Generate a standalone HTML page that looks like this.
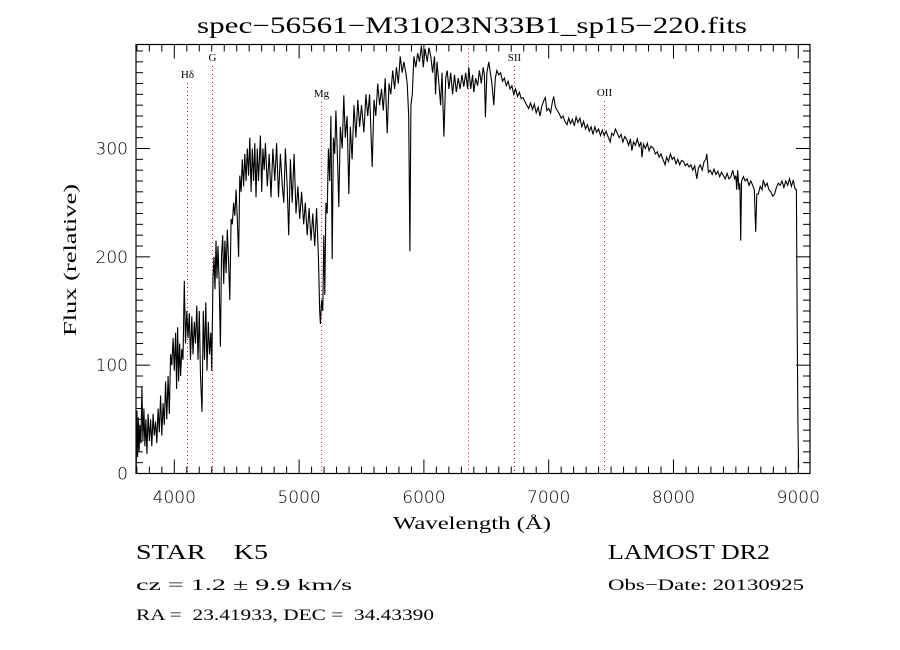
<!DOCTYPE html>
<html><head><meta charset="utf-8"><style>
html,body{margin:0;padding:0;background:#fff;}
svg{display:block;font-family:"Liberation Serif",serif;}
text{white-space:pre;}
</style></head><body>
<svg id="chart" width="900" height="650" viewBox="0 0 900 650">
<rect width="900" height="650" fill="#fff"/>
<text x="197" y="33" font-size="23" textLength="550" lengthAdjust="spacingAndGlyphs">spec−56561−M31023N33B1_sp15−220.fits</text>
<g id="lines"></g>
<g id="spec"></g>
<rect x="136" y="44.5" width="674" height="429" fill="none" stroke="#000" stroke-width="1.2"/>
<g id="ticks"></g>
<text x="393" y="529" font-size="18" textLength="158" lengthAdjust="spacingAndGlyphs">Wavelength (Å)</text>
<text transform="translate(76,336) rotate(-90)" font-size="18" textLength="152" lengthAdjust="spacingAndGlyphs">Flux (relative)</text>
<text x="136" y="559" font-size="21" textLength="132" lengthAdjust="spacingAndGlyphs">STAR    K5</text>
<text x="136" y="590" font-size="16" textLength="216" lengthAdjust="spacingAndGlyphs">cz = 1.2 ± 9.9 km/s</text>
<text x="136" y="620" font-size="16" textLength="298" lengthAdjust="spacingAndGlyphs">RA =  23.41933, DEC =  34.43390</text>
<text x="608" y="559" font-size="21" textLength="162" lengthAdjust="spacingAndGlyphs">LAMOST DR2</text>
<text x="608" y="590" font-size="16" textLength="196" lengthAdjust="spacingAndGlyphs">Obs−Date: 20130925</text>
</svg>
<script>
const lam=[3695,3700,3706,3712,3718,3725,3732,3740,3748,3756,3764,3772,3780,3790,3800,3810,3820,3830,3840,3850,3860,3870,3880,3890,3900,3910,3920,3930,3940,3950,3960,3970,3980,3990,4000,4010,4018,4026,4034,4042,4050,4060,4070,4080,4090,4100,4110,4120,4130,4140,4150,4160,4170,4180,4190,4200,4210,4222,4232,4242,4252,4262,4272,4282,4292,4300,4310,4318,4326,4334,4342,4350,4360,4369,4378,4388,4396,4405,4415,4425,4435,4445,4455,4465,4475,4485,4495,4505,4515,4525,4535,4545,4555,4565,4575,4585,4595,4605,4615,4625,4635,4645,4655,4665,4675,4690,4700,4710,4720,4730,4745,4760,4775,4790,4805,4820,4835,4850,4865,4877,4890,4905,4917,4930,4945,4960,4975,4990,5005,5020,5037,5050,5065,5080,5095,5110,5125,5140,5155,5165,5171,5180,5190,5198,5206,5215,5225,5235,5245,5255,5265,5275,5285,5295,5305,5318,5330,5345,5358,5370,5385,5398,5410,5425,5440,5455,5470,5485,5500,5519,5535,5550,5565,5586,5600,5615,5630,5645,5660,5675,5690,5706,5720,5735,5750,5765,5780,5795,5810,5826,5840,5855,5866,5878,5888,5896,5907,5920,5935,5950,5965,5980,5995,6010,6027,6040,6055,6070,6085,6093,6105,6120,6134,6145,6160,6175,6187,6200,6215,6230,6245,6260,6275,6290,6305,6320,6335,6350,6360,6375,6390,6400,6415,6430,6445,6460,6475,6485,6493,6505,6520,6530,6545,6560,6572,6585,6600,6615,6630,6645,6660,6675,6690,6705,6720,6735,6750,6765,6780,6795,6810,6825,6840,6855,6870,6885,6900,6915,6930,6945,6960,6973,6985,7000,7015,7030,7040,7055,7070,7085,7100,7115,7130,7147,7160,7175,7190,7205,7220,7235,7250,7265,7280,7295,7310,7325,7340,7355,7370,7385,7400,7415,7430,7445,7460,7475,7493,7505,7520,7535,7550,7565,7580,7595,7610,7627,7640,7655,7667,7680,7695,7710,7725,7740,7747,7760,7775,7790,7805,7820,7840,7855,7870,7885,7900,7915,7933,7945,7960,7975,7990,8005,8020,8035,8050,8065,8080,8095,8110,8125,8140,8155,8170,8187,8200,8215,8230,8245,8260,8267,8280,8295,8310,8325,8340,8355,8370,8385,8400,8415,8430,8445,8460,8475,8490,8500,8507,8515,8525,8532,8539,8546,8560,8575,8590,8605,8620,8635,8648,8659,8668,8680,8695,8710,8720,8735,8750,8765,8780,8795,8810,8825,8840,8855,8870,8885,8900,8915,8930,8945,8960,8973,8985,8992,8998,9003];
const flux=[5,58,15,52,20,45,28,80,30,60,25,50,18,55,30,50,25,55,35,48,28,60,38,72,35,65,45,85,50,90,55,110,100,125,95,130,78,135,85,120,90,115,105,178,120,150,125,148,105,145,110,140,120,155,105,150,90,57,150,105,158,95,140,110,130,95,180,200,170,215,180,210,175,117,200,220,175,215,185,225,195,160,235,230,250,238,262,235,200,275,260,290,265,295,270,300,275,310,260,300,270,305,255,300,270,312,260,300,280,305,265,295,255,300,270,305,255,295,265,250,300,265,220,290,250,295,240,265,235,260,230,250,220,245,215,240,210,245,200,150,138,160,150,220,165,250,240,300,270,330,198,310,295,335,300,246,320,300,349,310,330,258,320,290,340,310,345,320,340,315,350,330,350,283,345,330,360,340,355,335,365,314,360,350,372,355,375,360,385,370,380,370,360,330,205,340,350,385,375,388,380,395,375,392,380,393,385,370,385,350,380,360,340,370,311,365,372,355,370,350,368,352,365,355,368,357,370,355,375,355,368,352,365,358,372,360,375,368,329,370,380,372,360,340,365,372,368,370,362,365,358,362,355,358,350,355,348,352,346,347,343,340,337,342,336,341,333,338,330,339,344,347,335,337,333,343,348,338,335,332,328,330,325,322,328,323,327,321,329,324,328,320,325,318,322,316,320,313,320,315,318,312,317,312,316,311,306,314,312,318,314,310,313,306,311,308,303,309,298,306,303,309,302,306,292,304,300,305,298,302,300,295,297,292,295,290,285,292,288,295,290,292,286,290,285,289,288,284,286,283,285,280,284,272,282,285,280,288,290,295,278,280,276,281,276,279,274,278,275,272,277,272,274,280,272,275,262,280,262,268,215,270,274,270,272,266,270,266,262,223,258,258,265,262,271,265,268,262,260,256,258,264,268,266,270,264,270,266,272,265,271,263,262,120,40,5];
const yTicks=[0,100,200,300];
const xTicks=[4000,5000,6000,7000,8000,9000];
const lineNames=["Hδ","G","Mg","","SII","OII"];
const lineLams=[4102,4305,5178,6357,6720,7440];
const lineLabelY=[78,61,97,0,61,96];

const X0=136,X1=810,Y0=473.5,Y1=44.5,LMIN=3693,LMAX=9094,FMIN=0,FMAX=396;
function sx(l){return X0+(l-LMIN)/(LMAX-LMIN)*(X1-X0);}
function sy(f){return Y0-(f-FMIN)/(FMAX-FMIN)*(Y0-Y1);}
const NS="http://www.w3.org/2000/svg";
function mk(t,a){const e=document.createElementNS(NS,t);for(const k in a)e.setAttribute(k,a[k]);return e;}

const spec=document.getElementById('spec');
let d="";
for(let i=0;i<lam.length;i++){d+=(i?"L":"M")+sx(lam[i]).toFixed(1)+","+sy(Math.max(flux[i],-5)).toFixed(1);}
const p=mk('path',{d:d,fill:'none',stroke:'#000','stroke-width':1.1,'stroke-linejoin':'miter'});


spec.appendChild(p);

const lg=document.getElementById('lines');
for(let i=0;i<lineLams.length;i++){
  const x=Math.round(sx(lineLams[i]))+0.5;
  const top=lineNames[i]?lineLabelY[i]+5:Y1;
  const l=mk('line',{x1:x,x2:x,y1:top,y2:Y0,stroke:'#a02020','stroke-width':1,'stroke-dasharray':'1 3'});
  
  
  lg.appendChild(l);
  if(lineNames[i]){
    const t=mk('text',{x:x,y:lineLabelY[i],'text-anchor':'middle','font-size':11});
    t.textContent=lineNames[i];
    
    
    lg.appendChild(t);
  }
}

const tg=document.getElementById('ticks');
function tk(x1,y1,x2,y2){const l=mk('line',{x1:x1,y1:y1,x2:x2,y2:y2,stroke:'#000','stroke-width':1});tg.appendChild(l);}
for(let l=3700;l<=9000;l+=100){
  const x=sx(l);const major=l%1000===0;const len=major?14:7;
  tk(x,Y0,x,Y0-len);tk(x,Y1,x,Y1+len);
}
for(let f=0;f<=390;f+=10){
  const y=sy(f);const major=f%100===0;const len=major?14:7;
  tk(X0,y,X0+len,y);tk(X1,y,X1-len,y);
}
xTicks.forEach(v=>{
  const t=mk('text',{x:sx(v),y:503,'text-anchor':'middle','font-size':17,'font-family':'DejaVu Sans, sans-serif','font-weight':'200'});
  t.textContent=v;
  
  
  tg.appendChild(t);
});
yTicks.forEach(v=>{
  const t=mk('text',{x:128,y:sy(v)+6,'text-anchor':'end','font-size':17,'font-family':'DejaVu Sans, sans-serif','font-weight':'200'});
  t.textContent=v;
  
  
  tg.appendChild(t);
});
</script>
</body></html>
